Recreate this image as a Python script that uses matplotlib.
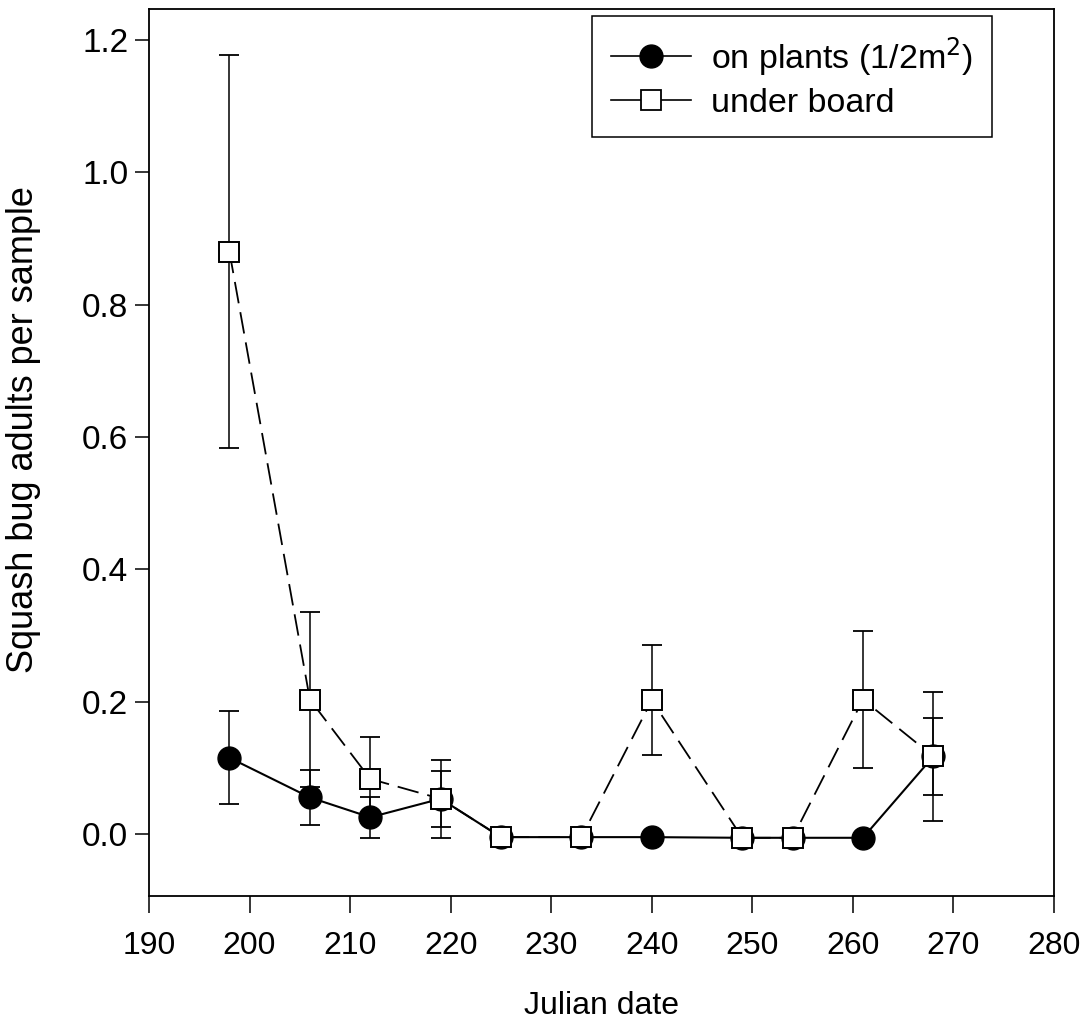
import matplotlib
matplotlib.use("Agg")
import matplotlib.pyplot as plt
from matplotlib.lines import Line2D

plt.rcParams['font.family'] = ['Liberation Sans', 'DejaVu Sans']

# Data
julian_day = [198, 206, 212, 219, 225, 233, 240, 249, 254, 261, 268]
on_plants = [0.115, 0.055, 0.025, 0.053, -0.005, -0.005, -0.005, -0.006, -0.006, -0.006, 0.117]
on_plants_se = [0.070, 0.041, 0.031, 0.042, 0.0, 0.0, 0.0, 0.0, 0.0, 0.0, 0.058]
under_board = [0.880, 0.203, 0.083, 0.053, -0.005, -0.005, 0.202, -0.006, -0.006, 0.203, 0.117]
under_board_se = [0.297, 0.132, 0.064, 0.059, 0.0, 0.0, 0.083, 0.0, 0.0, 0.103, 0.097]

x_ticks = [190, 200, 210, 220, 230, 240, 250, 260, 270, 280]
y_ticks = [0.0, 0.2, 0.4, 0.6, 0.8, 1.0, 1.2]
series_labels = ['on plants (1/2m$^2$)', 'under board']

fig = plt.figure(figsize=(10.82, 10.34), dpi=100)
ax = fig.add_axes([149/1082, 1 - 896/1034, (1054-149)/1082, (896-9)/1034])

# error bars (below markers)
ax.errorbar(julian_day, on_plants, yerr=on_plants_se, fmt='none', ecolor='black',
            elinewidth=1.1, capsize=7.2, capthick=1.3, zorder=1)
ax.errorbar(julian_day, under_board, yerr=under_board_se, fmt='none', ecolor='black',
            elinewidth=1.1, capsize=7.2, capthick=1.3, zorder=1)

# lines
ax.plot(julian_day, under_board, color='black', lw=1.3, dashes=[12, 5], zorder=2)
ax.plot(julian_day, on_plants, color='black', lw=1.5, zorder=2)

# markers
ax.plot(julian_day, on_plants, linestyle='none', marker='o', ms=16.5,
        mfc='black', mec='black', zorder=3)
ax.plot(julian_day, under_board, linestyle='none', marker='s', ms=14.5,
        mfc='white', mec='black', mew=1.4, zorder=4)

ax.set_xlim(190, 280)
ax.set_ylim(-0.094, 1.247)
ax.set_xticks(x_ticks)
ax.set_yticks(y_ticks)
ax.set_yticklabels([f'{v:.1f}' for v in y_ticks])
ax.tick_params(axis='x', direction='out', length=12, width=1.1, pad=13, labelsize=23)
ax.tick_params(axis='y', direction='out', length=10, width=1.1, pad=5, labelsize=24)
for s in ax.spines.values():
    s.set_linewidth(1.3)

ax.set_xlabel('Julian date', fontsize=23, labelpad=22)
ax.set_ylabel('Squash bug adults per sample', fontsize=26)
ax.yaxis.set_label_coords((41 - 149) / 905, (896 - 430) / 887)

handles = [
    Line2D([], [], color='black', lw=1.2, marker='o', ms=16.5, mfc='black', mec='black'),
    Line2D([], [], color='black', lw=1.2, marker='s', ms=14.5, mfc='white', mec='black', mew=1.3),
]
leg = ax.legend(handles, series_labels, loc='upper left',
                bbox_to_anchor=(592/1082, 1 - 16/1034), bbox_transform=fig.transFigure,
                fontsize=24.5, frameon=True, fancybox=False, framealpha=1,
                edgecolor='black', borderaxespad=0, borderpad=0.55,
                handlelength=2.35, handletextpad=0.6, labelspacing=0.3)
leg.get_frame().set_linewidth(1.1)

fig.savefig('out.png', dpi=100)
